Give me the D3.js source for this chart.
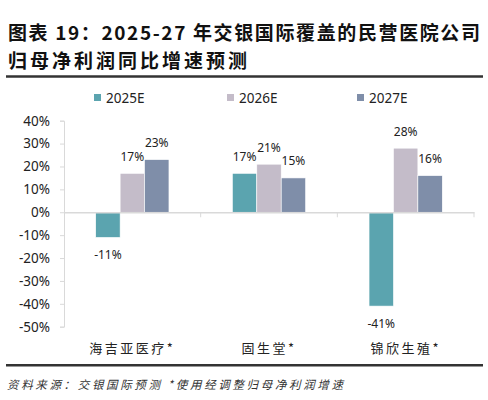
<!DOCTYPE html>
<html lang="zh">
<head>
<meta charset="utf-8">
<title>2025-27年交银国际覆盖的民营医院公司归母净利润同比增速预测</title>
<script src="https://cdnjs.cloudflare.com/ajax/libs/d3/7.8.5/d3.min.js"></script>
<style>
  body { margin: 0; background: #fff; }
  svg { display: block; }
</style>
</head>
<body>
<div id="chart"></div>
<script>
// data
const companies = ["海吉亚医疗*", "固生堂*", "锦欣生殖*"];
const seriesNames = ["2025E", "2026E", "2027E"];
const growth2025 = [-11, 17, -41];
const growth2026 = [17, 21, 28];
const growth2027 = [23, 15, 16];
const yTicks = [40, 30, 20, 10, 0, -10, -20, -30, -40, -50];
const colors = ["#5BA4AF", "#C4BCC9", "#7F8EA9"];

const w = 488, h = 400;
const plotLeft = 64, plotRight = 474, plotTop = 120.7, plotBottom = 326.7;

const svg = d3.select("#chart").append("svg")
  .attr("width", w).attr("height", h);

// title
const titleFont = "'Noto Sans CJK SC', 'Noto Sans', sans-serif";
svg.append("text")
  .attr("x", 8).attr("y", 31)
  .attr("dominant-baseline", "central")
  .attr("textLength", 472).attr("lengthAdjust", "spacing")
  .style("font-family", titleFont).style("font-weight", 700)
  .style("font-size", "19px").style("fill", "#111")
  .text("图表 19：2025-27 年交银国际覆盖的民营医院公司");
svg.append("text")
  .attr("x", 8).attr("y", 59)
  .attr("dominant-baseline", "central")
  .attr("textLength", 239).attr("lengthAdjust", "spacing")
  .style("font-family", titleFont).style("font-weight", 700)
  .style("font-size", "19px").style("fill", "#111")
  .text("归母净利润同比增速预测");

svg.append("line").attr("x1", 6).attr("x2", 483).attr("y1", 76.5).attr("y2", 76.5)
  .attr("stroke", "#333").attr("stroke-width", 2.5);
svg.append("line").attr("x1", 6).attr("x2", 483).attr("y1", 365.3).attr("y2", 365.3)
  .attr("stroke", "#333").attr("stroke-width", 2.5);

// scales
const x0 = d3.scaleBand().domain(companies).range([plotLeft, plotRight]);
const bw = x0.bandwidth();
const x1 = d3.scaleBand().domain(seriesNames).range([bw * 0.232, bw * 0.768]);
const y = d3.scaleLinear().domain([-50, 40]).range([plotBottom, plotTop]);

const table = companies.map((c, i) => ({
  company: c,
  values: [growth2025[i], growth2026[i], growth2027[i]].map((v, j) => ({ series: seriesNames[j], value: v, idx: j }))
}));

// legend
const legendX = [94, 227, 357];
const legend = svg.append("g").selectAll("g").data(seriesNames).enter().append("g")
  .attr("transform", (d, i) => `translate(${legendX[i]},97.5)`);
legend.append("rect").attr("x", 0).attr("y", -3.5).attr("width", 7).attr("height", 7)
  .attr("fill", (d, i) => colors[i]);
legend.append("text").attr("x", 12).attr("y", 0).attr("dominant-baseline", "central")
  .style("font-family", "'Noto Sans', sans-serif").style("font-size", "13.5px").style("fill", "#222")
  .text(d => d);

// y axis
const yAxis = d3.axisLeft(y).tickValues(yTicks).tickSize(4).tickFormat(d => d + "%");
const gy = svg.append("g").attr("transform", `translate(${plotLeft},0)`).call(yAxis);
gy.select(".domain").attr("stroke", "#d9d9d9");
gy.selectAll(".tick line").attr("stroke", "#d9d9d9");
gy.selectAll(".tick text").attr("x", -14)
  .style("font-family", "'Noto Sans', sans-serif").style("font-size", "13.5px").style("fill", "#222");

// bars
const groups = svg.append("g").selectAll("g").data(table).enter().append("g")
  .attr("transform", d => `translate(${x0(d.company)},0)`);
groups.selectAll("rect").data(d => d.values).enter().append("rect")
  .attr("x", d => x1(d.series))
  .attr("y", d => y(Math.max(0, d.value)))
  .attr("width", x1.bandwidth())
  .attr("height", d => Math.abs(y(d.value) - y(0)))
  .attr("fill", d => colors[d.idx])
  .attr("stroke", "#fff").attr("stroke-width", 0.6);
groups.selectAll("text").data(d => d.values).enter().append("text")
  .attr("x", d => x1(d.series) + x1.bandwidth() / 2)
  .attr("y", d => d.value >= 0 ? y(d.value) - 17 : y(d.value) + 17)
  .attr("text-anchor", "middle").attr("dominant-baseline", "central")
  .style("font-family", "'Noto Sans', sans-serif").style("font-size", "12px").style("fill", "#222")
  .text(d => d.value + "%");

// x axis at zero
const xAxis = d3.axisBottom(x0).tickValues([]).tickSizeOuter(0);
const gx = svg.append("g").attr("transform", `translate(0,${y(0)})`).call(xAxis);
gx.select(".domain").attr("stroke", "#d9d9d9").attr("stroke-width", 1.5);
gx.selectAll(".sep").data(companies).enter().append("line")
  .attr("x1", d => x0(d) + bw).attr("x2", d => x0(d) + bw)
  .attr("y1", 0).attr("y2", 5).attr("stroke", "#d9d9d9");

// category labels
svg.append("g").selectAll("text").data(companies).enter().append("text")
  .attr("x", d => x0(d) + bw / 2).attr("y", 347)
  .attr("text-anchor", "middle").attr("dominant-baseline", "central")
  .style("font-family", "'Noto Sans CJK SC', sans-serif").style("font-size", "13px")
  .style("letter-spacing", "2.5px").style("fill", "#222")
  .text(d => d);

// source
svg.append("text").attr("x", 7).attr("y", 383.5).attr("dominant-baseline", "central")
  .attr("textLength", 336).attr("lengthAdjust", "spacing")
  .style("font-family", "'Noto Sans CJK SC', sans-serif").style("font-size", "11.5px")
  .style("font-style", "italic").style("fill", "#333")
  .text("资料来源：交银国际预测 *使用经调整归母净利润增速");
</script>
</body>
</html>
